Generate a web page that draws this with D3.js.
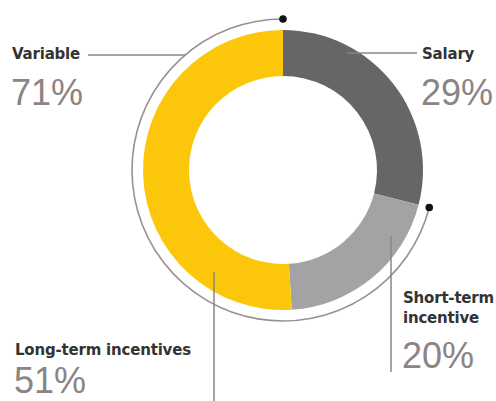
<!DOCTYPE html>
<html>
<head>
<meta charset="utf-8">
<script src="https://cdn.jsdelivr.net/npm/d3@7"></script>
<style>
  body { margin: 0; background: #fff; }
  svg { display: block; }
</style>
</head>
<body>
<svg id="canvas" width="496" height="401"></svg>
<script>
// pay mix data
let segments = ["Salary", "Short-term incentive", "Long-term incentives"];
let shares = [29, 20, 51];
let colors = ["#666666", "#a3a3a5", "#fcc70a"];
let variableLabel = "Variable";
let variableShare = 71;

let svg = d3.select('#canvas');
let cx = 283, cy = 170;
let rInner = 94, rOuter = 140, rRing = 151;

let pie = d3.pie().sort(null).value(d => d.v);
let arcs = pie(segments.map((s, i) => ({ name: s, v: shares[i], c: colors[i] })));
let arc = d3.arc().innerRadius(rInner).outerRadius(rOuter);

let g = svg.append('g').attr('transform', `translate(${cx},${cy})`);
g.selectAll('path.seg')
  .data(arcs)
  .enter()
  .append('path')
  .attr('class', 'seg')
  .attr('d', arc)
  .attr('fill', d => d.data.c);

// thin ring around the variable part
let varStart = arcs[1].startAngle;
let ringArc = d3.arc().innerRadius(rRing).outerRadius(rRing)
  .startAngle(varStart).endAngle(2 * Math.PI);
g.append('path')
  .attr('d', ringArc())
  .attr('fill', 'none')
  .attr('stroke', '#9a9090')
  .attr('stroke-width', 1.6);

[varStart, 2 * Math.PI].forEach(a => {
  g.append('circle')
    .attr('cx', rRing * Math.sin(a))
    .attr('cy', -rRing * Math.cos(a))
    .attr('r', 3.8)
    .attr('fill', '#111');
});

let lineColor = '#8f8585';
let ringX = y => cx - Math.sqrt(rRing * rRing - (y - cy) * (y - cy));

// leader lines
svg.append('line').attr('x1', 88).attr('x2', ringX(55)).attr('y1', 55).attr('y2', 55)
  .attr('stroke', lineColor).attr('stroke-width', 1.5);
svg.append('line').attr('x1', 347).attr('x2', 417).attr('y1', 53).attr('y2', 53)
  .attr('stroke', lineColor).attr('stroke-width', 1.5);
svg.append('line').attr('x1', 391).attr('x2', 391).attr('y1', 236).attr('y2', 372)
  .attr('stroke', lineColor).attr('stroke-width', 1.5);
svg.append('line').attr('x1', 214).attr('x2', 214).attr('y1', 272).attr('y2', 401)
  .attr('stroke', lineColor).attr('stroke-width', 1.5);

let nameFont = "'DejaVu Sans', sans-serif";
let pctFont = "'Liberation Sans', Arial, sans-serif";
let addName = (x, y, t) => svg.append('text').attr('x', x).attr('y', y).text(t)
  .attr('font-family', nameFont).attr('font-weight', 'bold').attr('font-size', 15)
  .attr('letter-spacing', -0.2).attr('fill', '#333');
let addPct = (x, y, v) => svg.append('text').attr('x', x).attr('y', y).text(v + '%')
  .attr('font-family', pctFont).attr('font-size', 36).attr('fill', '#8c8484');

addName(12, 59, variableLabel);
addPct(11, 105, variableShare);

addName(422, 59, segments[0]);
addPct(421, 105, shares[0]);

addName(403, 303, "Short-term");
addName(403, 323, "incentive");
addPct(402, 368, shares[1]);

addName(15, 355, segments[2]);
addPct(14, 393, shares[2]);
</script>
</body>
</html>
